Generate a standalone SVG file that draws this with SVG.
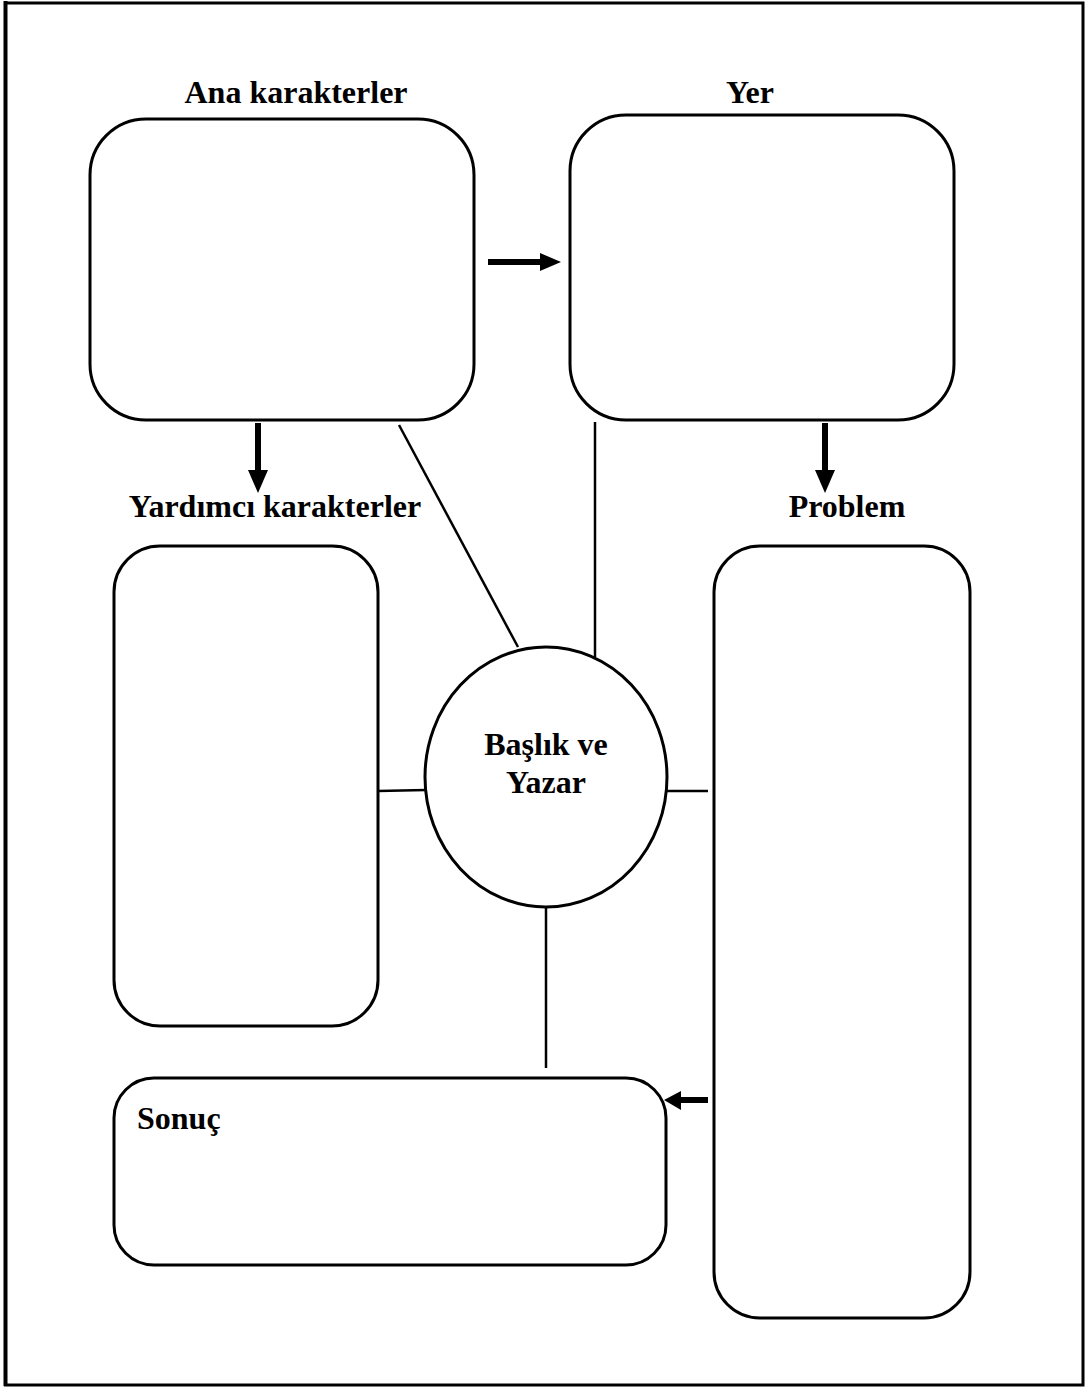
<svg xmlns="http://www.w3.org/2000/svg" width="1086" height="1387" viewBox="0 0 1086 1387">
  <defs>
    <style>
      .box { fill: #fff; stroke: #000; stroke-width: 3; }
      .link { stroke: #000; stroke-width: 2.5; fill: none; }
      .shaft { stroke: #000; stroke-width: 6; fill: none; }
      .head { fill: #000; }
      .label { font-family: "Liberation Serif", "Times New Roman", serif; font-weight: bold; font-size: 32px; fill: #000; }
    </style>
  </defs>

  <!-- page frame -->
  <rect x="0" y="0" width="1086" height="1387" fill="#fff"/>
  <rect x="5.5" y="3" width="1077.5" height="1382" fill="none" stroke="#000" stroke-width="3"/>
  <line x1="5.5" y1="1" x2="5.5" y2="1386" stroke="#000" stroke-width="4"/>

  <!-- connectors -->
  <g id="connectors">
    <line class="link" x1="399" y1="425" x2="518" y2="647"/>
    <line class="link" x1="595" y1="422" x2="595" y2="657"/>
    <line class="link" x1="378" y1="791" x2="426" y2="790"/>
    <line class="link" x1="661" y1="791" x2="708" y2="791"/>
    <line class="link" x1="546" y1="907" x2="546" y2="1068"/>

    <!-- Ana karakterler to Yer -->
    <line class="shaft" x1="488" y1="262" x2="542" y2="262"/>
    <polygon class="head" points="540,253 561,262 540,271"/>
    <!-- Ana karakterler to Yardımcı karakterler -->
    <line class="shaft" x1="258" y1="423" x2="258" y2="472"/>
    <polygon class="head" points="248,470 268,470 258,493"/>
    <!-- Yer to Problem -->
    <line class="shaft" x1="825" y1="423" x2="825" y2="472"/>
    <polygon class="head" points="815,470 835,470 825,493"/>
    <!-- Problem to Sonuç -->
    <line class="shaft" x1="708" y1="1100" x2="678" y2="1100"/>
    <polygon class="head" points="681,1091 681,1110 664,1100"/>
  </g>

  <g id="node-ana-karakterler">
    <rect class="box" x="90" y="119" width="384" height="301" rx="56" ry="56"/>
    <text class="label" x="296" y="103" text-anchor="middle">Ana karakterler</text>
  </g>

  <g id="node-yer">
    <rect class="box" x="570" y="115" width="384" height="305" rx="56" ry="56"/>
    <text class="label" x="750" y="103" text-anchor="middle">Yer</text>
  </g>

  <g id="node-yardimci">
    <rect class="box" x="114" y="546" width="264" height="480" rx="46" ry="46"/>
    <text class="label" x="275" y="517" text-anchor="middle">Yardımcı karakterler</text>
  </g>

  <g id="node-problem">
    <rect class="box" x="714" y="546" width="256" height="772" rx="46" ry="46"/>
    <text class="label" x="847" y="517" text-anchor="middle">Problem</text>
  </g>

  <g id="node-sonuc">
    <rect class="box" x="114" y="1078" width="552" height="187" rx="40" ry="40"/>
    <text class="label" x="137" y="1129">Sonuç</text>
  </g>

  <g id="node-baslik">
    <ellipse class="box" cx="546" cy="777" rx="121" ry="130"/>
    <text class="label" x="546" y="755" text-anchor="middle">Başlık ve</text>
    <text class="label" x="546" y="793" text-anchor="middle">Yazar</text>
  </g>
</svg>
